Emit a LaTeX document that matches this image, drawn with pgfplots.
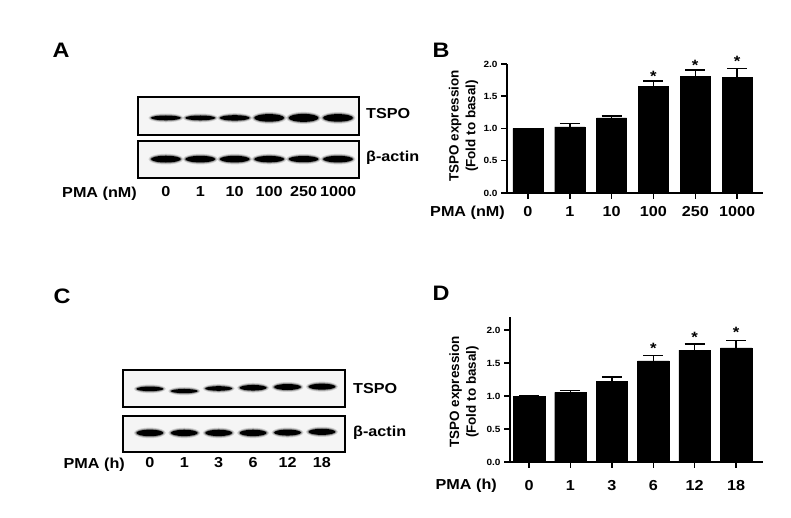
\documentclass[border=0pt]{standalone}
\usepackage{pgfplots}
\pgfplotsset{compat=1.18}
\usepackage{fontspec}
\setmainfont{Liberation Sans}[FakeStretch=1.12]
\newfontfamily\plainfont{Liberation Sans}

\pgfdeclareplotmark{bandA}{%
  \pgfsetfillcolor{black}%
  \pgfsetfillopacity{0.15}%
  \pgfpathellipse{\pgfpointorigin}{\pgfqpoint{17.5pt}{0pt}}{\pgfqpoint{0pt}{\dimexpr\pgfplotmarksize+2pt\relax}}%
  \pgfusepathqfill
  \pgfsetfillopacity{0.3}%
  \pgfpathellipse{\pgfpointorigin}{\pgfqpoint{16.2pt}{0pt}}{\pgfqpoint{0pt}{\dimexpr\pgfplotmarksize+1pt\relax}}%
  \pgfusepathqfill
  \pgfsetfillopacity{1}%
  \pgfpathellipse{\pgfpointorigin}{\pgfqpoint{15pt}{0pt}}{\pgfqpoint{0pt}{\pgfplotmarksize}}%
  \pgfusepathqfill}
\pgfdeclareplotmark{bandC}{%
  \pgfsetfillcolor{black}%
  \pgfsetfillopacity{0.15}%
  \pgfpathellipse{\pgfpointorigin}{\pgfqpoint{16pt}{0pt}}{\pgfqpoint{0pt}{\dimexpr\pgfplotmarksize+2pt\relax}}%
  \pgfusepathqfill
  \pgfsetfillopacity{0.3}%
  \pgfpathellipse{\pgfpointorigin}{\pgfqpoint{14.7pt}{0pt}}{\pgfqpoint{0pt}{\dimexpr\pgfplotmarksize+1pt\relax}}%
  \pgfusepathqfill
  \pgfsetfillopacity{1}%
  \pgfpathellipse{\pgfpointorigin}{\pgfqpoint{13.5pt}{0pt}}{\pgfqpoint{0pt}{\pgfplotmarksize}}%
  \pgfusepathqfill}

\newcommand\bnd[4]{\addplot[only marks, mark=#1, mark size=#4, black] coordinates {(#2,#3)};}

\pgfplotsset{
  blot/.style={scale only axis, anchor=south west, ymin=0, ymax=1,
    axis line style={line width=1.8bp}, xtick=\empty, ytick=\empty,
    axis background/.style={fill=black!4}, clip=false},
  blotlab/.style={xtick={0,...,5}, xtick style={draw=none}, major tick length=0pt,
    xticklabel style={font=\bfseries\fontsize{14.5}{16}\selectfont}},
  bars/.style={scale only axis, anchor=south west, axis lines=left,
    axis line style={-, line width=2bp}, tick align=outside, major tick length=6bp,
    tick style={line width=1.5bp, black}, xtick={0,...,5}, ymin=0,
    ytick={0,0.5,1,1.5,2}, enlargelimits=false, clip=false,
    /pgf/number format/assume math mode=true,
    yticklabel style={font=\bfseries\fontsize{9}{10}\selectfont,
      /pgf/number format/fixed, /pgf/number format/fixed zerofill,
      /pgf/number format/precision=1},
    xticklabel style={font=\bfseries\fontsize{14.5}{16}\selectfont}},
  barplot/.style={ybar, fill=black, draw=black,
    /pgfplots/error bars/y dir=plus, /pgfplots/error bars/y explicit,
    /pgfplots/error bars/error bar style={line width=1.5bp, black},
    /pgfplots/error bars/error mark options={rotate=90, line width=1.5bp, mark size=10bp, black}},
}
\tikzset{
  ast/.style={anchor=base, yshift=-8.5bp, inner sep=0pt, font=\bfseries\fontsize{15}{15}\selectfont},
  lab/.style={inner sep=0pt, font=\bfseries\fontsize{14.5}{16}\selectfont},
  ylab/.style={rotate=90, align=center, inner sep=0pt, font=\plainfont\bfseries\fontsize{13.5}{17}\selectfont},
  panel/.style={inner sep=0pt, font=\bfseries\fontsize{21}{24}\selectfont},
}

\begin{document}
\begin{tikzpicture}[x=1bp, y=1bp]
\path[use as bounding box] (0,0) rectangle (791,518);

% panel letters
\node[panel] at (61,468) {A};
\node[panel] at (441,468) {B};
\node[panel] at (62,222) {C};
\node[panel] at (441,225) {D};

% ---------------- Blot A ----------------
\begin{axis}[blot, at={(138bp,383bp)}, width=221bp, height=38bp, xmin=-0.81, xmax=5.61]
\bnd{bandA}{0}{0.45}{2.4}
\bnd{bandA}{1}{0.45}{2.4}
\bnd{bandA}{2}{0.45}{2.7}
\bnd{bandA}{3}{0.45}{3.8}
\bnd{bandA}{4}{0.45}{4.0}
\bnd{bandA}{5}{0.45}{3.8}
\end{axis}
\begin{axis}[blot, blotlab, at={(138bp,340bp)}, width=221bp, height=37bp, xmin=-0.81, xmax=5.61,
  xticklabels={0,1,10,100,250,1000}, xticklabel style={yshift=-5bp}]
\bnd{bandA}{0}{0.51}{3.4}
\bnd{bandA}{1}{0.51}{3.3}
\bnd{bandA}{2}{0.51}{3.3}
\bnd{bandA}{3}{0.51}{3.2}
\bnd{bandA}{4}{0.51}{3.1}
\bnd{bandA}{5}{0.51}{3.3}
\end{axis}
\node[lab, anchor=west] at (366,404) {TSPO};
\node[lab, anchor=west] at (366,360) {β-actin};
\node[lab, anchor=base east] at (137,320) {PMA (nM)};

% ---------------- Blot C ----------------
\begin{axis}[blot, at={(123bp,111bp)}, width=222bp, height=37bp, xmin=-0.78, xmax=5.67]
\bnd{bandC}{0}{0.49}{2.3}
\bnd{bandC}{1}{0.43}{2.1}
\bnd{bandC}{2}{0.50}{2.3}
\bnd{bandC}{3}{0.52}{2.8}
\bnd{bandC}{4}{0.54}{3.0}
\bnd{bandC}{5}{0.55}{3.0}
\end{axis}
\begin{axis}[blot, blotlab, at={(123bp,66bp)}, width=222bp, height=36bp, xmin=-0.78, xmax=5.67,
  xticklabels={0,1,3,6,12,18}, xticklabel style={yshift=-2bp}]
\bnd{bandC}{0}{0.53}{3.3}
\bnd{bandC}{1}{0.53}{3.2}
\bnd{bandC}{2}{0.53}{3.2}
\bnd{bandC}{3}{0.53}{3.2}
\bnd{bandC}{4}{0.54}{3.0}
\bnd{bandC}{5}{0.56}{3.1}
\end{axis}
\node[lab, anchor=west] at (353,129) {TSPO};
\node[lab, anchor=west] at (353,85) {β-actin};
\node[lab, anchor=base east] at (125,49) {PMA (h)};

% ---------------- Bar chart B ----------------
\begin{axis}[bars, at={(507bp,325bp)}, width=256bp, height=129bp,
  xmin=-0.5, xmax=5.62, ymax=2,
  xticklabels={0,1,10,100,250,1000}, xticklabel style={yshift=-4bp}]
\addplot[bar width=0.72, barplot] coordinates {
  (0,1.000) +- (0,0)
  (1,1.026) +- (0,0.052)
  (2,1.166) +- (0,0.030)
  (3,1.658) +- (0,0.078)
  (4,1.803) +- (0,0.104)
  (5,1.788) +- (0,0.139)
};
\node[ast] at (axis cs:3,1.855) {*};
\node[ast] at (axis cs:4,2.036) {*};
\node[ast] at (axis cs:5,2.090) {*};
\end{axis}
\node[ylab] at (463.5,392) {TSPO expression\\(Fold to basal)};
\node[lab, anchor=base east] at (505,301) {PMA (nM)};

% ---------------- Bar chart D ----------------
\begin{axis}[bars, at={(510bp,56bp)}, width=253bp, height=145bp,
  xmin=-0.46, xmax=5.65, ymax=2.2,
  xticklabels={0,1,3,6,12,18}, xticklabel style={yshift=-9bp}]
\addplot[bar width=0.76, barplot] coordinates {
  (0,1.000) +- (0,0)
  (1,1.055) +- (0,0.031)
  (2,1.222) +- (0,0.066)
  (3,1.535) +- (0,0.081)
  (4,1.697) +- (0,0.096)
  (5,1.732) +- (0,0.111)
};
\node[ast] at (axis cs:3,1.778) {*};
\node[ast] at (axis cs:4,1.939) {*};
\node[ast] at (axis cs:5,2.015) {*};
\end{axis}
\node[ylab] at (464,126) {TSPO expression\\(Fold to basal)};
\node[lab, anchor=base east] at (497,28) {PMA (h)};
\end{tikzpicture}
\end{document}
